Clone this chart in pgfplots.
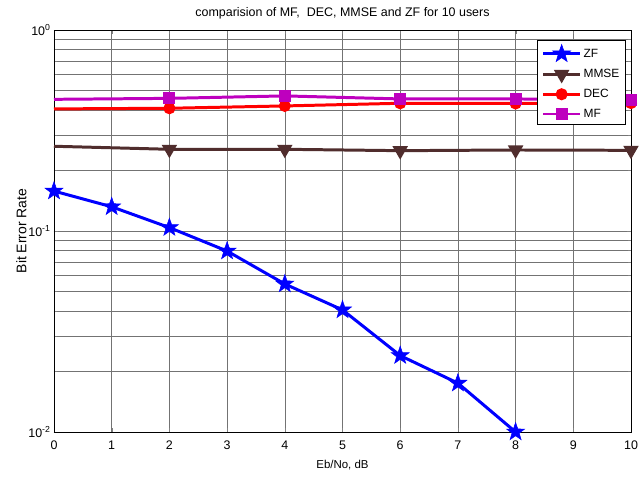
\documentclass[border=0pt]{standalone}
\usepackage{pgfplots}
\pgfplotsset{compat=1.18}
\usepackage{fontspec}
\setmainfont{Liberation Sans}
\definecolor{mmse}{RGB}{80,45,45}
\definecolor{mfc}{RGB}{190,0,190}
\pgfdeclareplotmark{pentagram}{%
  \pgfpathmoveto{\pgfpointpolar{90}{\pgfplotmarksize}}%
  \pgfpathlineto{\pgfpointpolar{126}{0.4\pgfplotmarksize}}%
  \pgfpathlineto{\pgfpointpolar{162}{\pgfplotmarksize}}%
  \pgfpathlineto{\pgfpointpolar{198}{0.4\pgfplotmarksize}}%
  \pgfpathlineto{\pgfpointpolar{234}{\pgfplotmarksize}}%
  \pgfpathlineto{\pgfpointpolar{270}{0.4\pgfplotmarksize}}%
  \pgfpathlineto{\pgfpointpolar{306}{\pgfplotmarksize}}%
  \pgfpathlineto{\pgfpointpolar{342}{0.4\pgfplotmarksize}}%
  \pgfpathlineto{\pgfpointpolar{18}{\pgfplotmarksize}}%
  \pgfpathlineto{\pgfpointpolar{54}{0.4\pgfplotmarksize}}%
  \pgfpathclose
  \pgfusepathqfillstroke}
\begin{document}
\begin{tikzpicture}
\useasboundingbox (-54bp,-46bp) rectangle (588bp,432bp);
\begin{axis}[
  scale only axis, width=577bp, height=402bp,
  ymode=log, xmin=0, xmax=10, ymin=0.01, ymax=1,
  xtick={0,1,...,10},
  ytick={0.01,0.1,1},
  yticklabels={10\textsuperscript{-2},10\textsuperscript{-1},10\textsuperscript{0}},
  /pgf/number format/assume math mode=true,
  tick label style={font=\fontsize{12.5}{14}\selectfont},
  xticklabel style={yshift=-5pt},
  grid=both,
  major grid style={black!55, line width=0.6pt},
  minor grid style={black!55, line width=0.6pt},
  tick align=inside, ticks=both,
  axis line style={black, line width=0.8pt},
  title={comparision of MF,\ \ DEC, MMSE and ZF for 10 users},
  title style={font=\fontsize{12.5}{14}\selectfont, yshift=1pt},
  xlabel={Eb/No, dB}, ylabel={Bit Error Rate},
  xlabel style={font=\fontsize{11.5}{13}\selectfont, yshift=-4pt},
  ylabel style={font=\fontsize{14}{16}\selectfont, yshift=-5pt},
  legend style={at={(rel axis cs:0.991,0.975)}, anchor=north east,
    font=\fontsize{12}{14}\selectfont, draw=black, line width=0.8pt,
    row sep=6pt, inner sep=4pt, cells={anchor=west}},
  legend cell align=left,
  legend image code/.code={\draw[#1, mark indices={2}] plot coordinates {(0cm,0cm)(0.65cm,0cm)(1.3cm,0cm)};},
]
\addplot[blue, line width=3pt, mark=pentagram, mark size=9.5pt, mark options={fill=blue, line width=0.5pt}]
  coordinates {(0,0.158)(1,0.132)(2,0.104)(3,0.0795)(4,0.0545)(5,0.0405)(6,0.024)(7,0.0175)(8,0.01)};
\addlegendentry{ZF}
\addplot[mmse, line width=3pt, mark=triangle*, mark size=6pt, mark options={rotate=180, fill=mmse}, mark indices={2,3,4,5,6}]
  coordinates {(0,0.264)(2,0.255)(4,0.255)(6,0.251)(8,0.253)(10,0.252)};
\addlegendentry{MMSE}
\addplot[red, line width=3pt, mark=*, mark size=4.5pt, mark options={fill=red}, mark indices={2,3,4,5,6}]
  coordinates {(0,0.405)(2,0.408)(4,0.419)(6,0.432)(8,0.431)(10,0.433)};
\addlegendentry{DEC}
\addplot[mfc, line width=3pt, mark=square*, mark size=4.5pt, mark options={fill=mfc}, mark indices={2,3,4,5,6}]
  coordinates {(0,0.452)(2,0.457)(4,0.47)(6,0.454)(8,0.454)(10,0.449)};
\addlegendentry{MF}
\end{axis}
\end{tikzpicture}
\end{document}
